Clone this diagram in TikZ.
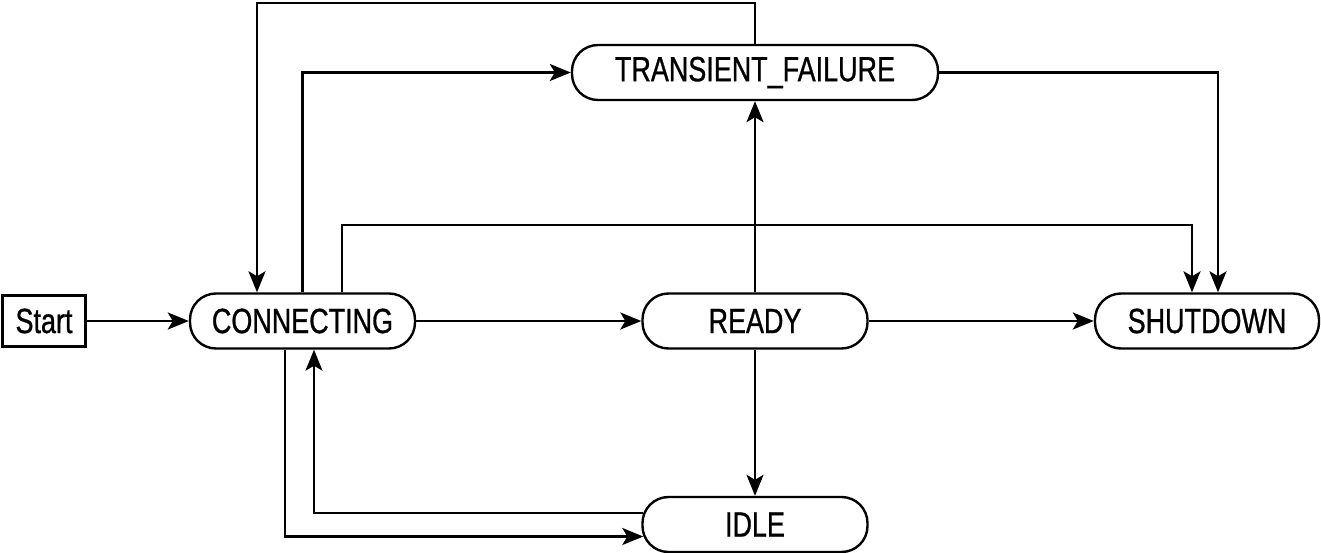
\documentclass[tikz,border=0pt]{standalone}
\usepackage{fontspec}
\setmainfont{Liberation Sans}[FakeStretch=0.77,FakeBold=0.8]
\usetikzlibrary{arrows.meta,calc}
\tikzset{
  state/.style={draw, line width=2.4pt, rounded corners=26pt, minimum width=225pt, minimum height=55pt, inner sep=0pt, font=\fontsize{35}{42}\selectfont},
  startbox/.style={draw, line width=2.4pt, minimum width=83pt, minimum height=51pt, inner sep=0pt, font=\fontsize{35}{42}\selectfont},
  arr/.style={line width=2.4pt, ->},
  >={Stealth[length=21pt,width=17pt,inset=5pt]}
}
\begin{document}
\begin{tikzpicture}[x=1pt,y=-1pt]
\useasboundingbox (0,0) rectangle (1321,553);
\node[startbox] (start) at (44,321) {Start};
\node[state] (conn) at (302.5,321) {CONNECTING};
\node[state] (ready) at (755,321) {READY};
\node[state, minimum width=224pt] (shut) at (1207,321) {SHUTDOWN};
\node[state, minimum width=366pt] (tf) at (755,72.5) {TRANSIENT\_FAILURE};
\node[state] (idle) at (755,524.5) {IDLE};
\coordinate (top) at (257,3);
\coordinate (mid) at (342,225);
\coordinate (sx1) at (1192,0);
\coordinate (sx2) at (1218,0);
\coordinate (bx1) at (285,0);
\coordinate (bx2) at (314,0);

\draw[arr] (start) -- (conn);
\draw[arr] (conn) -- (ready);
\draw[arr] (ready) -- (shut);
\draw[arr] (ready) -- (tf);
\draw[arr] (ready) -- (idle);
\draw[arr] (tf.north) |- (top) -- (top |- conn.north);
\draw[arr] (conn.north) |- (tf.west);
\draw[arr] (mid |- conn.north) -- (mid) -| (sx1 |- shut.north);
\draw[arr] (tf.east) -| (sx2 |- shut.north);
\draw[arr] (bx1 |- conn.south) |- ($(idle.west)+(2,12)$);
\draw[arr] ($(idle.west)+(2,-11.5)$) -| (bx2 |- conn.south);
\end{tikzpicture}
\end{document}
